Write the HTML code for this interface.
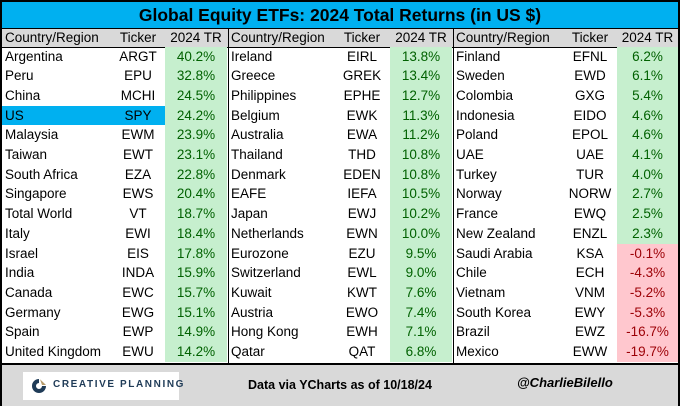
<!DOCTYPE html>
<html><head><meta charset="utf-8"><style>
body{margin:0;width:680px;height:406px;overflow:hidden;background:#fff;font-family:"Liberation Sans",Arial,sans-serif}
#wrap{position:absolute;left:0;top:0;width:676px;height:402px;border:2px solid #000;background:#fff}
.abs{position:absolute;white-space:nowrap}
#title{left:0;top:0;width:676px;height:26px;background:#00b0f0;border-bottom:1px solid #000;text-align:center;font-weight:bold;font-size:17.5px;line-height:26px;color:#000}
#hdr{left:0;top:27px;width:676px;height:18px;background:#d9d9d9;border-bottom:1px solid #000}
#footer{left:0;top:361px;width:676px;height:41px;background:#d9d9d9;border-top:2px solid #000}
.cell{position:absolute;font-size:13.5px;line-height:19.7px;height:19.7px;color:#000;white-space:nowrap}
.vline{position:absolute;width:1px;background:#000}
</style></head><body>
<div id="wrap">
<div id="title" class="abs">Global Equity ETFs: 2024 Total Returns (in US $)</div>
<div id="hdr" class="abs"></div>
<div id="body"></div>
<div id="footer" class="abs">
 <div class="abs" style="left:21px;top:7px;width:156px;height:28px;background:#fff;">
  <svg class="abs" style="left:8px;top:6px" width="16" height="16" viewBox="0 0 16 16"><path d="M8 1 A7 7 0 1 0 15 8 L11 8 A3 3 0 1 1 8 5 Z" fill="#1f3b57"/><path d="M9 1.2 L15 7 L11 7 Z" fill="#b59a6a"/></svg>
  <span class="abs" style="left:30px;top:7px;font-size:10px;font-weight:bold;letter-spacing:1.6px;color:#1f3b57">CREATIVE PLANNING</span>
 </div>
 <div class="abs" style="left:246px;top:13px;font-size:12.5px;font-weight:bold">Data via YCharts as of 10/18/24</div>
 <div class="abs" style="left:515px;top:10px;font-size:13px;font-weight:bold;font-style:italic">@CharlieBilello</div>
</div>
</div>
<script>
const col1Names=["Argentina","Peru","China","US","Malaysia","Taiwan","South Africa","Singapore","Total World","Italy","Israel","India","Canada","Germany","Spain","United Kingdom"];
const col1Tickers=["ARGT","EPU","MCHI","SPY","EWM","EWT","EZA","EWS","VT","EWI","EIS","INDA","EWC","EWG","EWP","EWU"];
const col1Values=[40.2,32.8,24.5,24.2,23.9,23.1,22.8,20.4,18.7,18.4,17.8,15.9,15.7,15.1,14.9,14.2];
const col2Names=["Ireland","Greece","Philippines","Belgium","Australia","Thailand","Denmark","EAFE","Japan","Netherlands","Eurozone","Switzerland","Kuwait","Austria","Hong Kong","Qatar"];
const col2Tickers=["EIRL","GREK","EPHE","EWK","EWA","THD","EDEN","IEFA","EWJ","EWN","EZU","EWL","KWT","EWO","EWH","QAT"];
const col2Values=[13.8,13.4,12.7,11.3,11.2,10.8,10.8,10.5,10.2,10.0,9.5,9.0,7.6,7.4,7.1,6.8];
const col3Names=["Finland","Sweden","Colombia","Indonesia","Poland","UAE","Turkey","Norway","France","New Zealand","Saudi Arabia","Chile","Vietnam","South Korea","Brazil","Mexico"];
const col3Tickers=["EFNL","EWD","GXG","EIDO","EPOL","UAE","TUR","NORW","EWQ","ENZL","KSA","ECH","VNM","EWY","EWZ","EWW"];
const col3Values=[6.2,6.1,5.4,4.6,4.6,4.1,4.0,2.7,2.5,2.3,-0.1,-4.3,-5.2,-5.3,-16.7,-19.7];
const highlight="US";
const groups=[
 {names:col1Names,tickers:col1Tickers,values:col1Values,x0:0,tx:108,tw:56,vx:163,vw:62},
 {names:col2Names,tickers:col2Tickers,values:col2Values,x0:226,tx:330,tw:60,vx:388,vw:62},
 {names:col3Names,tickers:col3Tickers,values:col3Values,x0:451,tx:560,tw:56,vx:615,vw:61}
];
const body=document.getElementById('body');
const top0=44.5, rh=19.7;
function mk(cls,style,text){const d=document.createElement('div');d.className=cls;d.style.cssText=style;if(text!==undefined)d.textContent=text;body.appendChild(d);return d;}
groups.forEach((g,gi)=>{
 let h=mk('cell',`left:${g.x0+3}px;top:26px`,'Country/Region');
 
 
 h=mk('cell',`left:${g.tx}px;width:${g.tw}px;text-align:center;top:26px`,'Ticker');
 
 
 h=mk('cell',`left:${g.vx}px;width:${g.vw}px;text-align:center;top:26px`,'2024 TR');
 
 
 g.names.forEach((n,i)=>{
  const y=top0+i*rh;
  const v=g.values[i];
  if(n===highlight){
   const b=mk('cell',`left:${g.x0}px;top:${y}px;width:${g.vx-g.x0}px;background:#00b0f0`);
   
   
  }
  const bg=mk('cell',`left:${g.vx}px;top:${y}px;width:${g.vw}px;height:${rh+0.5}px;background:${v<0?'#ffc7ce':'#c6efce'}`);
  
  
  let c=mk('cell',`left:${g.x0+3}px;top:${y}px`,n);
  
  
  c=mk('cell',`left:${g.tx}px;width:${g.tw}px;text-align:center;top:${y}px`,g.tickers[i]);
  
  
  c=mk('cell',`left:${g.vx}px;width:${g.vw}px;text-align:center;color:${v<0?'#9c0006':'#006100'}`,v.toFixed(1)+'%');
  c.style.top=y+'px';
  
  
 });
 if(gi>0){
  const l=mk('vline',`left:${g.x0}px;top:27px;height:334px`);
  
  
 }
});
</script>
</body></html>
